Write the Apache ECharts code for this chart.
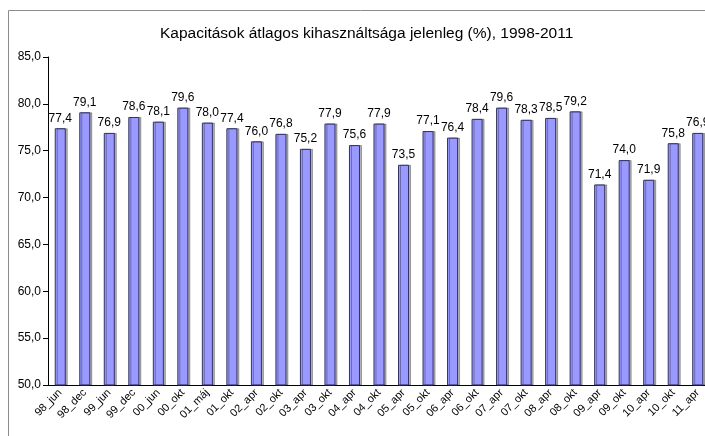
<!DOCTYPE html>
<html>
<head>
<meta charset="utf-8">
<script src="https://cdn.jsdelivr.net/npm/echarts@6/dist/echarts.min.js"></script>
<style>
  html, body { margin: 0; padding: 0; background: #fff; overflow: hidden; }
  #charts { width: 712px; height: 436px; }
</style>
</head>
<body>
<div id="charts"></div>
<script>
// felmérési időpontok
var periods = ['98_jun', '98_dec', '99_jun', '99_dec', '00_jun', '00_okt', '01_máj', '01_okt',
  '02_apr', '02_okt', '03_apr', '03_okt', '04_apr', '04_okt', '05_apr', '05_okt', '06_apr',
  '06_okt', '07_apr', '07_okt', '08_apr', '08_okt', '09_apr', '09_okt', '10_apr', '10_okt', '11_apr'];
// átlagos kapacitáskihasználtság (%)
var usage = [77.4, 79.1, 76.9, 78.6, 78.1, 79.6, 78.0, 77.4, 76.0, 76.8, 75.2, 77.9, 75.6,
  77.9, 73.5, 77.1, 76.4, 78.4, 79.6, 78.3, 78.5, 79.2, 71.4, 74.0, 71.9, 75.8, 76.9];

var fmt = function (v) { return v.toFixed(1).replace('.', ','); };

// a diagram jobb széle kilóg a képből, ezért szélesebb a vászon
var myChart = echarts.init(document.getElementById('charts'));
var option = {
  animation: false,
  textStyle: { fontFamily: 'Liberation Sans, Arial, sans-serif' },
  title: {
    text: 'Kapacitások átlagos kihasználtsága jelenleg (%), 1998-2011',
    left: 155,
    top: 21,
    textStyle: { fontSize: 15.5, fontWeight: 'normal', color: '#000' }
  },
  graphic: [{
    type: 'rect',
    shape: { x: 8.5, y: 10.5, width: 720, height: 450 },
    style: { fill: 'none', stroke: '#8c8c8c', lineWidth: 1 },
    silent: true
  }],
  grid: { left: 48, right: 2, top: 57, bottom: 51 },
  xAxis: {
    type: 'category',
    data: periods,
    axisLine: { lineStyle: { color: '#000' } },
    axisTick: { alignWithLabel: false, length: 5, lineStyle: { color: '#000' } },
    axisLabel: { rotate: 45, fontSize: 11, color: '#000', interval: 0, margin: 6 }
  },
  yAxis: {
    type: 'value',
    min: 50,
    max: 85,
    interval: 5,
    splitLine: { show: false },
    axisLine: { show: true, lineStyle: { color: '#000' } },
    axisTick: { show: true, length: 5, lineStyle: { color: '#000' } },
    axisLabel: { fontSize: 12, color: '#000', margin: 7, formatter: fmt }
  },
  series: [{
    type: 'bar',
    data: usage,
    barWidth: '45%',
    itemStyle: {
      color: '#9999ff',
      borderColor: '#333366',
      borderWidth: 1,
      shadowColor: 'rgba(0,0,0,0.3)',
      shadowOffsetX: 2,
      shadowOffsetY: 0,
      shadowBlur: 0
    },
    label: {
      show: true,
      position: 'top',
      distance: 4,
      fontSize: 12,
      color: '#000',
      formatter: function (p) { return fmt(p.value); }
    }
  }]
};
myChart.setOption(option);
</script>
</body>
</html>
